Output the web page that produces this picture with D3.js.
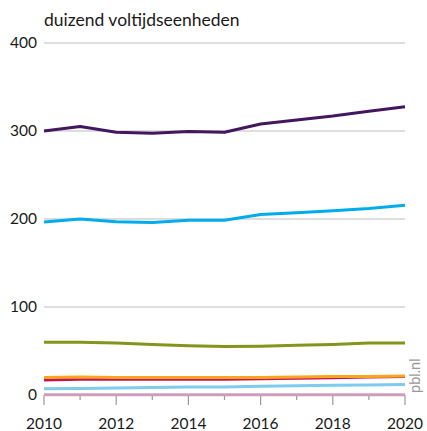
<!DOCTYPE html>
<html>
<head>
<meta charset="utf-8">
<script src="https://cdn.jsdelivr.net/npm/d3@7"></script>
<style>
  body { margin: 0; background: #fff; }
  svg { display: block; font-family: "Lato", "Noto Sans", sans-serif; }
</style>
</head>
<body>
<svg id="chart" width="427" height="431"></svg>
<script>
// Employment by sector, thousand full-time equivalents
const years = [2010, 2011, 2012, 2013, 2014, 2015, 2016, 2017, 2018, 2019, 2020];
const purpleSeries  = [300, 305, 298.5, 297.5, 299.5, 298.5, 308, 312.5, 317, 322.5, 327.5];
const cyanSeries    = [196.5, 200, 197, 196, 198.5, 198.5, 205, 207, 209.5, 212, 215.5];
const oliveSeries   = [60, 60, 59, 57.5, 56, 55, 55.5, 56.5, 57.5, 59, 59];
const orangeSeries  = [20, 20.5, 20, 20, 20, 20, 20, 20.5, 21, 21, 21.5];
const crimsonSeries = [17, 18, 18, 18, 18, 18, 18.5, 19, 19.5, 20.5, 21];
const skySeries     = [7, 7.5, 8, 8.5, 9, 9, 10, 10.5, 11, 11.5, 12];
const pinkSeries    = [0.3, 0.3, 0.3, 0.3, 0.3, 0.3, 0.3, 0.3, 0.3, 0.3, 0.3];
const yTicks = [0, 100, 200, 300, 400];
const xTickLabels = [2010, 2012, 2014, 2016, 2018, 2020];

const series = [
  { values: pinkSeries,    color: "#cf9cbc" },
  { values: skySeries,     color: "#7dcbee" },
  { values: crimsonSeries, color: "#c4125e" },
  { values: orangeSeries,  color: "#f8a61e" },
  { values: oliveSeries,   color: "#85951c" },
  { values: cyanSeries,    color: "#00acec" },
  { values: purpleSeries,  color: "#42175f" }
];

const svg = d3.select("#chart");
const plotLeft = 44, plotRight = 405, plotTop = 43, plotBottom = 395;

const x = d3.scaleLinear().domain([2010, 2020]).range([plotLeft, plotRight]);
const y = d3.scaleLinear().domain([0, 400]).range([plotBottom, plotTop]);

// title
svg.append("text")
  .attr("x", plotLeft).attr("y", 26)
  .attr("font-size", 17.5).attr("fill", "#1a1a1a")
  .text("duizend voltijdseenheden");

// horizontal gridlines
svg.append("g").selectAll("line")
  .data(yTicks.filter(d => d > 0))
  .join("line")
  .attr("x1", plotLeft).attr("x2", plotRight)
  .attr("y1", d => y(d)).attr("y2", d => y(d))
  .attr("stroke", "#d2d2d2").attr("stroke-width", 1.5);

// y labels
svg.append("g").selectAll("text")
  .data(yTicks)
  .join("text")
  .attr("x", 37).attr("y", d => y(d) + 5)
  .attr("text-anchor", "end")
  .attr("font-size", 15.5).attr("fill", "#1a1a1a")
  .text(d => d);

// x axis: yearly ticks, longer on even years
const xAxis = svg.append("g");
xAxis.selectAll("line")
  .data(years)
  .join("line")
  .attr("x1", d => x(d)).attr("x2", d => x(d))
  .attr("y1", plotBottom).attr("y2", d => d % 2 === 0 ? plotBottom + 10 : plotBottom + 5)
  .attr("stroke", "#9a9a9a").attr("stroke-width", 1.2);
xAxis.selectAll("text")
  .data(xTickLabels)
  .join("text")
  .attr("x", d => x(d)).attr("y", 429)
  .attr("text-anchor", "middle")
  .attr("font-size", 15.5).attr("fill", "#1a1a1a")
  .text(d => d);

// lines
const line = d3.line()
  .x((d, i) => x(years[i]))
  .y(d => y(d));

svg.append("g").selectAll("path")
  .data(series)
  .join("path")
  .attr("d", d => line(d.values))
  .attr("fill", "none")
  .attr("stroke", d => d.color)
  .attr("stroke-width", 3)
  .attr("stroke-linejoin", "round");

// source mark
svg.append("text")
  .attr("transform", `translate(420, ${plotBottom - 2}) rotate(-90)`)
  .attr("font-size", 14.5).attr("fill", "#999999")
  .text("pbl.nl");
</script>
</body>
</html>
